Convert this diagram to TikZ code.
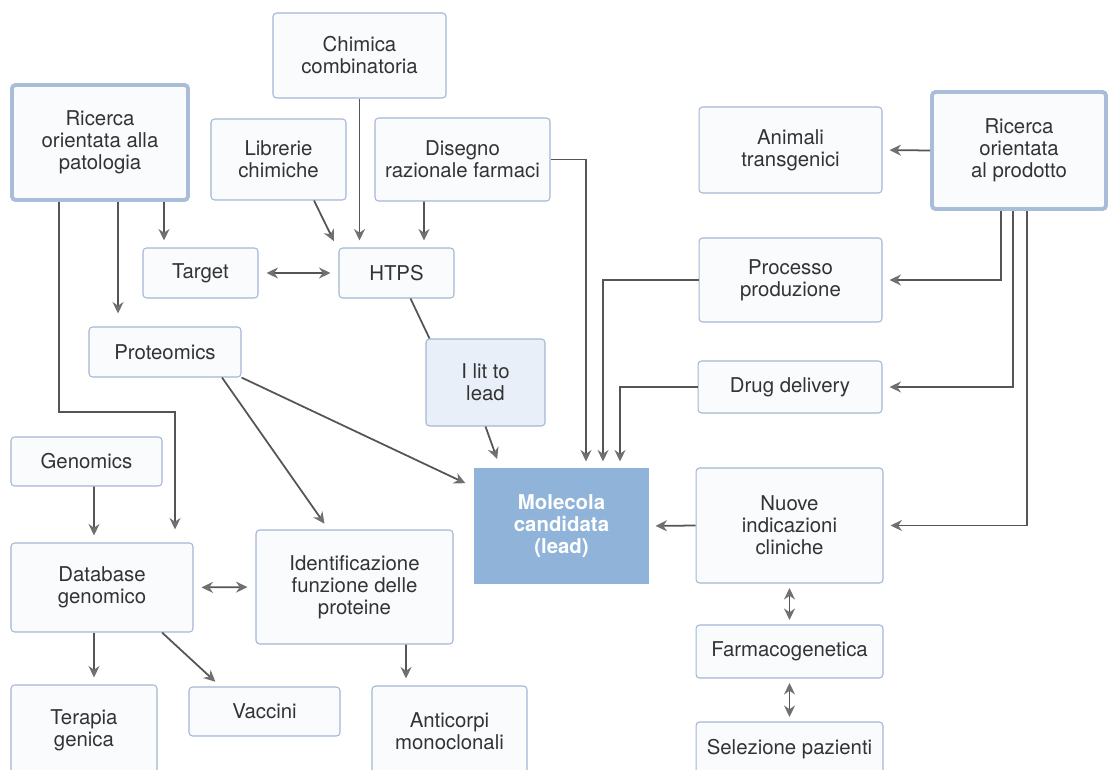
\documentclass[tikz,border=0pt]{standalone}
\usepackage{fontspec}
\setmainfont{TeX Gyre Heros}
\usetikzlibrary{arrows.meta,calc}

\definecolor{boxline}{HTML}{A3B7D3}
\definecolor{boxfill}{HTML}{FAFBFD}
\definecolor{bigline}{HTML}{A9BDD8}
\definecolor{leadfill}{HTML}{8FB3D9}
\definecolor{litfill}{HTML}{E9EFF9}
\definecolor{linegray}{HTML}{555555}
\definecolor{tipgray}{HTML}{707070}
\definecolor{textgray}{HTML}{333333}

\begin{document}
\begin{tikzpicture}[x=0.02cm,y=-0.02cm]
\tikzstyle{every node}=[draw=boxline,fill=boxfill,rounded corners=2pt,line width=0.6pt,align=center,text=textgray,inner sep=0pt,font=\fontsize{11.6}{12.5}\selectfont];
\tikzstyle{big}=[draw=bigline,line width=2.2pt];
\tikzstyle{arr}=[draw=linegray,line width=1pt,-{Stealth[length=2.3mm,width=2.2mm,color=tipgray]},shorten >=1.4mm];
\tikzstyle{dbl}=[draw=linegray,line width=1pt,{Stealth[length=2.3mm,width=2.2mm,color=tipgray]}-{Stealth[length=2.3mm,width=2.2mm,color=tipgray]},shorten >=1.6mm,shorten <=1.6mm];
\tikzstyle{plain}=[draw=linegray,line width=1pt];
\useasboundingbox (0,0) rectangle (1108,770);
\clip (0,0) rectangle (1108,770);

\node[minimum width=3.46cm,minimum height=1.70cm] (chim) at (359.5,55.5) {Chimica\\combinatoria};
\node[big,minimum width=3.52cm,minimum height=2.30cm] (patol) at (100,142.5) {Ricerca\\orientata alla\\patologia};
\node[minimum width=2.70cm,minimum height=1.62cm] (libr) at (278.5,159.5) {Librerie\\chimiche};
\node[minimum width=3.50cm,minimum height=1.66cm] (diseg) at (462.5,159.5) {Disegno\\razionale farmaci};
\node[minimum width=2.30cm,minimum height=1.00cm] (target) at (200.5,273) {Target};
\node[minimum width=2.30cm,minimum height=1.00cm] (htps) at (396.5,273) {HTPS};
\node[minimum width=3.04cm,minimum height=1.00cm] (prot) at (165,352) {Proteomics};
\node[fill=litfill,minimum width=2.38cm,minimum height=1.74cm] (ilit) at (485.5,382.5) {I lit to\\lead};
\node[draw=leadfill,fill=leadfill,text=white,font=\fontsize{11.6}{12.5}\selectfont\bfseries,rounded corners=0pt,minimum width=3.46cm,minimum height=2.28cm] (mol) at (561.5,526) {Molecola\\candidata\\(lead)};
\node[minimum width=3.02cm,minimum height=0.98cm] (genom) at (86.5,461.5) {Genomics};
\node[minimum width=3.64cm,minimum height=1.78cm] (datab) at (102,587.5) {Database\\genomico};
\node[minimum width=3.94cm,minimum height=2.28cm] (ident) at (354.5,587) {Identificazione\\funzione delle\\proteine};
\node[minimum width=2.92cm,minimum height=1.80cm] (terap) at (84,730) {Terapia\\genica};
\node[minimum width=3.02cm,minimum height=0.98cm] (vacc) at (264.5,711.5) {Vaccini};
\node[minimum width=3.10cm,minimum height=1.80cm] (antic) at (449.5,731) {Anticorpi\\monoclonali};
\node[minimum width=3.66cm,minimum height=1.72cm] (anim) at (790.5,150) {Animali\\transgenici};
\node[big,minimum width=3.48cm,minimum height=2.34cm] (prod) at (1019,150.5) {Ricerca\\orientata\\al prodotto};
\node[minimum width=3.66cm,minimum height=1.68cm] (proc) at (790.5,280) {Processo\\produzione};
\node[minimum width=3.68cm,minimum height=1.04cm] (drug) at (790,387) {Drug delivery};
\node[minimum width=3.74cm,minimum height=2.30cm] (nuove) at (789.5,525.5) {Nuove\\indicazioni\\cliniche};
\node[minimum width=3.74cm,minimum height=1.06cm] (farm) at (789.5,651.5) {Farmacogenetica};
\node[minimum width=3.74cm,minimum height=1.08cm] (selez) at (789.5,749) {Selezione pazienti};

\draw[arr] ($(patol.south)+(64,0)$) -- ($(target.north)+(-36.5,0)$);
\draw[arr,shorten >=2.6mm] ($(patol.south)+(18,0)$) -- ($(prot.north)+(-47,0)$);
\draw[arr,shorten >=2.6mm] ($(patol.south)+(-41,0)$) -- ++(0,210) -| ($(datab.north)+(73,0)$);
\draw[arr] ($(libr.south)+(35.5,0)$) -- ($(htps.north)+(-59.5,0)$);
\draw[arr] (chim.south) -- (chim.south |- htps.north);
\draw[arr] ($(diseg.south)+(-38.5,0)$) -- ($(htps.north)+(27.5,0)$);
\draw[dbl] (target.east) -- (htps.west);
\draw[plain] ($(htps.south)+(14,0)$) -- ($(ilit.north)+(-56,0)$);
\draw[arr,shorten >=2mm] (ilit.south) -- ($(mol.north)+(-61,0)$);
\draw[arr,shorten >=2mm] (prot.south east) -- ($(mol.north west)+(0,19)$);
\draw[arr] ($(prot.south)+(57,0)$) -- ($(ident.north)+(-26,0)$);
\draw[arr] (diseg.east) -| ($(mol.north)+(24.5,0)$);
\draw[arr] (proc.west) -| ($(mol.north)+(41.5,0)$);
\draw[arr] (drug.west) -| ($(mol.north)+(58.5,0)$);
\draw[arr] (prod.west) -- (anim.east);
\draw[arr] ($(prod.south)+(-18,0)$) |- (proc.east);
\draw[arr] ($(prod.south)+(-6,0)$) |- (drug.east);
\draw[arr] ($(prod.south)+(8,0)$) |- (nuove.east);
\draw[arr] (nuove.west) -- (mol.east);
\draw[dbl,shorten >=0.9mm,shorten <=0.9mm] (nuove.south) -- (farm.north);
\draw[dbl,shorten >=0.9mm,shorten <=0.9mm] (farm.south) -- (selez.north);
\draw[arr] ($(genom.south)+(7.5,0)$) -- ($(datab.north)+(-8,0)$);
\draw[dbl] (datab.east) -- (ident.west);
\draw[arr] ($(datab.south)+(-8,0)$) -- ($(terap.north)+(10,0)$);
\draw[arr] ($(datab.south)+(60,0)$) -- ($(vacc.north west)+(32,0)$);
\draw[arr] ($(ident.south)+(51.5,0)$) -- ($(antic.north)+(-43.5,0)$);
\end{tikzpicture}
\end{document}
